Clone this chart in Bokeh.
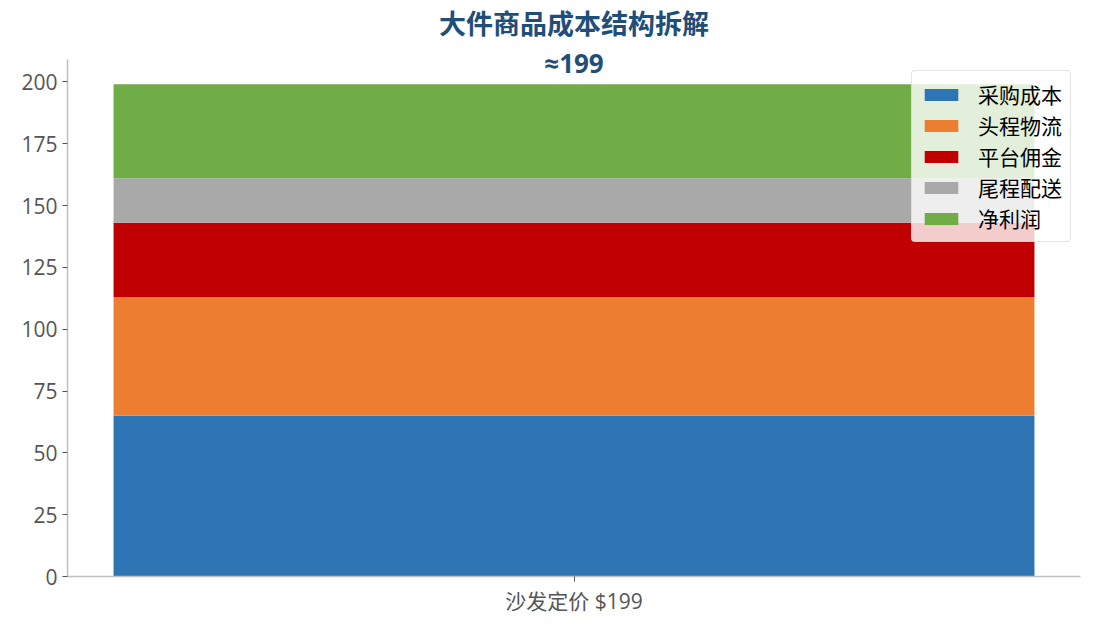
from bokeh.plotting import figure
from bokeh.models import ColumnDataSource, FixedTicker, Legend, LegendItem, Label
from bokeh.embed import file_html
from bokeh.resources import INLINE

categories = ["沙发定价 $199"]
segments = ["采购成本", "头程物流", "平台佣金", "尾程配送", "净利润"]
values = [65, 48, 30, 18, 38]
colors = ["#2e75b6", "#ed7d31", "#c00000", "#a9a9a9", "#70ad47"]
total_label = "≈199"
title_text = "大件商品成本结构拆解"
y_ticks = [0, 25, 50, 75, 100, 125, 150, 175, 200]
y_axis_max = 209

FONT = "Open Sans, Noto Sans CJK SC"

data = {"cat": categories}
for s, v in zip(segments, values):
    data[s] = [v]
source = ColumnDataSource(data)

# the frame extends a bit above the axis top so the total label is not clipped
p = figure(x_range=categories, y_range=(0, 215.5), width=1095, height=629,
           output_backend="svg", toolbar_location=None,
           min_border_left=67, min_border_right=15, min_border_bottom=53, min_border_top=0)
p.x_range.range_padding = 0.1

renderers = p.vbar_stack(segments, x="cat", width=1.0, color=colors, source=source,
                         line_width=0)

total = sum(values)
cat_center = categories.index(categories[0]) + 0.5
total_text = Label(x=cat_center, y=total, text=total_label,
                   text_align="center", text_baseline="bottom", y_offset=3,
                   text_font=FONT, text_font_style="bold", text_font_size="26px",
                   text_color="#1f4e79", level="overlay")
p.add_layout(total_text)

p.title.text = title_text
p.title.align = "center"
p.title.text_font = FONT
p.title.text_font_size = "27px"
p.title.text_font_style = "bold"
p.title.text_color = "#1f4e79"
p.title.standoff = 4

items = [LegendItem(label=s, renderers=[r]) for s, r in zip(segments, renderers)]
legend = Legend(items=items, location=(844, 334))
legend.label_text_font = FONT
legend.label_text_font_size = "21px"
legend.label_text_color = "#000000"
legend.label_height = 25
legend.glyph_width = 42
legend.glyph_height = 15
legend.spacing = 1
legend.label_standoff = 16
legend.padding = 8
legend.background_fill_alpha = 0.8
legend.border_line_color = "#cccccc"
legend.border_line_width = 1.5
legend.border_radius = 4
p.add_layout(legend, "center")

p.xgrid.grid_line_color = None
p.ygrid.grid_line_color = None
p.outline_line_color = None

p.yaxis.ticker = FixedTicker(ticks=y_ticks)
p.yaxis.bounds = (0, y_axis_max)
p.yaxis.minor_tick_line_color = None
for ax in (p.xaxis, p.yaxis):
    ax.axis_line_color = "#c0c0c0"
    ax.axis_line_width = 1.5
    ax.major_tick_line_color = "#555555"
    ax.major_tick_in = 0
    ax.major_tick_out = 5
    ax.major_label_text_font = FONT
    ax.major_label_text_font_size = "21px"
    ax.major_label_text_color = "#555555"

open("out.html", "w").write(file_html(p, INLINE))
